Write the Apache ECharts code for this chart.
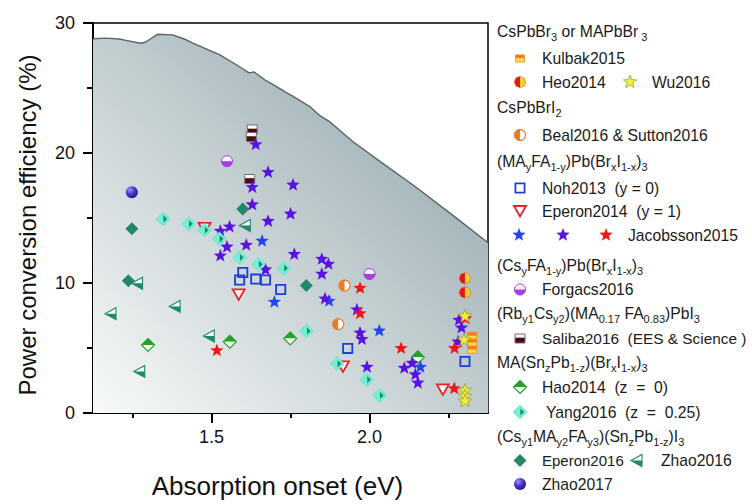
<!DOCTYPE html>
<html>
<head>
<meta charset="utf-8">
<script src="https://cdn.jsdelivr.net/npm/echarts@6/dist/echarts.min.js"></script>
<style>
  html, body { margin: 0; padding: 0; background: #fff; }
  #chart { width: 752px; height: 504px; }
</style>
</head>
<body>
<div id="chart"></div>
<script>
// ---- Data: [absorption onset (eV), power conversion efficiency (%)] ----
const kulbak2015 = [[2.325, 5.94], [2.325, 5.41], [2.325, 4.87]];
const heo2014 = [[2.302, 10.36], [2.302, 9.27]];
const wu2016 = [[2.302, 7.44], [2.299, 5.61], [2.302, 1.73], [2.302, 1.29], [2.302, 0.91]];
const beal2016Sutton2016 = [[1.921, 9.80], [1.901, 6.83]];
const noh2013 = [[1.599, 10.81], [1.589, 10.23], [1.640, 10.30], [1.671, 10.23], [1.719, 9.50], [1.931, 4.97], [2.302, 3.96]];
const eperon2014 = [[1.478, 14.24], [1.586, 9.12], [1.916, 3.58], [2.232, 1.81]];
const jacobssonBlue = [[1.660, 13.23], [1.699, 8.53], [1.872, 8.61], [2.031, 6.32], [2.161, 3.53]];
const jacobssonPurple = [
  [1.640, 20.64], [1.679, 18.51], [1.629, 17.36], [1.758, 17.54], [1.629, 16.02],
  [1.750, 15.31], [1.679, 14.75], [1.557, 14.32], [1.528, 13.99], [1.610, 12.92],
  [1.549, 12.77], [1.762, 12.21], [1.528, 12.09], [1.671, 11.02], [1.849, 11.83],
  [1.870, 11.45], [1.849, 10.69], [1.859, 8.78], [1.960, 7.94], [1.970, 6.17],
  [1.976, 5.66], [1.992, 3.53], [2.110, 3.45], [2.135, 3.83], [2.145, 2.95],
  [2.153, 2.31], [2.283, 7.14], [2.291, 6.55], [2.280, 5.48]
];
const jacobssonRed = [[1.517, 4.80], [1.970, 9.60], [1.970, 7.64], [2.100, 4.97], [2.269, 4.97], [2.268, 1.88], [2.304, 7.26]];
const forgacs2016 = [[1.549, 19.37], [2.000, 10.69]];
const saliba2016 = [[1.629, 21.81], [1.626, 21.23], [1.621, 18.00]];
const hao2014 = [[1.299, 5.23], [1.558, 5.48], [1.749, 5.73], [2.153, 4.29]];
const yang2016 = [
  [1.347, 14.93], [1.428, 14.55], [1.478, 14.07], [1.525, 13.40], [1.589, 11.96],
  [1.649, 11.45], [1.729, 11.14], [1.801, 6.30], [1.898, 3.79], [1.992, 2.57], [2.032, 1.35]
];
const eperon2016 = [[1.599, 15.69], [1.248, 14.17], [1.237, 10.18], [1.800, 9.80]];
const zhao2016 = [[1.607, 14.42], [1.266, 9.98], [1.182, 7.64], [1.385, 8.20], [1.493, 5.92], [1.273, 3.20]];
const zhao2017 = [[1.248, 16.98]];

// Detailed-balance efficiency limit (upper boundary of the shaded region)
const limitEnergy = [1.125, 1.165, 1.208, 1.229, 1.271, 1.282, 1.292, 1.329, 1.377, 1.420, 1.441, 1.525, 1.567,
  1.599, 1.615, 1.621, 1.634, 1.674, 1.694, 1.737, 1.757, 1.811, 1.843, 1.875, 1.948, 2.034, 2.139, 2.266, 2.375];
const limitPce = [28.79, 28.84, 28.77, 28.66, 28.46, 28.46, 28.54, 29.13, 29.09, 28.71, 28.46, 27.57, 26.96,
  26.48, 26.22, 26.16, 26.24, 25.54, 25.28, 24.65, 24.37, 23.57, 22.87, 22.39, 20.87, 19.34, 17.52, 15.16, 13.10];

// Axis ticks
const xMajorTicks = [1.5, 2.0];
const xMinorTicks = [1.25, 1.75, 2.25];
const yRange = [0, 30];
const xRange = [1.125, 2.375];

const FONT = '"Liberation Sans", Arial, Helvetica, sans-serif';

// ---- Marker drawing helpers (shared by plot and legend) ----
function arcPts(cx, cy, r, a0, a1, n) {
  const pts = [];
  for (let i = 0; i <= n; i++) {
    const a = a0 + (a1 - a0) * i / n;
    pts.push([cx + r * Math.cos(a), cy + r * Math.sin(a)]);
  }
  return pts;
}
function poly(points, fill, stroke, lw) {
  return { type: 'polygon', shape: { points }, style: { fill: fill, stroke: stroke || null, lineWidth: lw || 0 } };
}
function starPts(cx, cy, r) {
  const pts = [];
  for (let i = 0; i < 10; i++) {
    const rr = i % 2 === 0 ? r : r * 0.42;
    const a = -Math.PI / 2 + i * Math.PI / 5;
    pts.push([cx + rr * Math.cos(a), cy + rr * Math.sin(a)]);
  }
  return pts;
}
function diamondPts(cx, cy, rx, ry) {
  return [[cx, cy - ry], [cx + rx, cy], [cx, cy + ry], [cx - rx, cy]];
}
const PI = Math.PI;
function marker(kind, x, y) {
  switch (kind) {
    case 'kulbak':
      return [
        { type: 'rect', shape: { x: x - 4.5, y: y - 3.6, width: 9, height: 3.6 }, style: { fill: '#f47b20' } },
        { type: 'rect', shape: { x: x - 4.5, y: y, width: 9, height: 3.6 }, style: { fill: '#f8e23a' } },
        { type: 'rect', shape: { x: x - 4.5, y: y - 3.6, width: 9, height: 7.2 }, style: { fill: null, stroke: '#ef8a2a', lineWidth: 0.8 } }
      ];
    case 'heo':
      return [
        poly(arcPts(x, y, 5.8, PI / 2, 3 * PI / 2, 4), '#e8141c'),
        poly(arcPts(x, y, 5.8, -PI / 2, PI / 2, 4), '#f5d22a'),
        poly(arcPts(x, y, 5.8, 0, 2 * PI, 8), null, '#e0603a', 0.6)
      ];
    case 'wu':
      return [poly(starPts(x, y, 7), '#eef03c', '#a0a030', 0.8)];
    case 'beal':
      return [
        poly(arcPts(x, y, 5.5, 0, 2 * PI, 24), '#ffffff'),
        poly(arcPts(x, y, 5.5, PI / 2, 3 * PI / 2, 12), '#f07a22'),
        poly(arcPts(x, y, 5.5, 0, 2 * PI, 24), null, '#f07a22', 1.2)
      ];
    case 'noh':
      return [{ type: 'rect', shape: { x: x - 4.6, y: y - 4.6, width: 9.2, height: 9.2 }, style: { fill: null, stroke: '#1e3fd2', lineWidth: 1.8 } }];
    case 'eperon2014':
      return [poly([[x - 6, y - 5], [x + 6, y - 5], [x, y + 5.5]], '#ffffff', '#e8202a', 1.8)];
    case 'jacB':
      return [poly(starPts(x, y, 7), '#2246ee')];
    case 'jacP':
      return [poly(starPts(x, y, 7), '#5a12e2')];
    case 'jacR':
      return [poly(starPts(x, y, 7), '#f21616')];
    case 'forgacs':
      return [
        poly(arcPts(x, y, 5.5, PI, 2 * PI, 12), '#f6f0fc'),
        poly(arcPts(x, y, 5.5, 0, PI, 12), '#a43fe2'),
        poly(arcPts(x, y, 5.5, 0, 2 * PI, 24), null, '#9a3ddb', 1)
      ];
    case 'saliba':
      return [
        { type: 'rect', shape: { x: x - 5, y: y - 4.5, width: 10, height: 9 }, style: { fill: '#fafafa' } },
        { type: 'rect', shape: { x: x - 5, y: y - 0.8, width: 10, height: 5.3 }, style: { fill: '#4a0b14' } },
        { type: 'rect', shape: { x: x - 5, y: y - 4.5, width: 10, height: 9 }, style: { fill: null, stroke: '#7a6a6c', lineWidth: 1 } }
      ];
    case 'hao':
      return [
        poly([[x - 6.5, y], [x, y - 6.5], [x + 6.5, y]], '#22a226'),
        poly([[x - 6.5, y], [x + 6.5, y], [x, y + 6.5]], '#ffffff'),
        poly(diamondPts(x, y, 6.5, 6.5), null, '#22a226', 1.2)
      ];
    case 'yang':
      return [
        poly(diamondPts(x, y, 7, 7), '#72f0d6', '#62dcc4', 0.6),
        poly([[x + 0.3, y - 3.6], [x + 4, y], [x + 0.3, y + 3.6]], '#1f8a68')
      ];
    case 'eperon2016':
      return [poly(diamondPts(x, y, 6.5, 6.5), '#24876a')];
    case 'zhao2016':
      return [
        poly([[x - 6, y], [x + 5, y - 6], [x + 5, y]], '#ffffff'),
        poly([[x - 6, y], [x + 5, y], [x + 5, y + 6]], '#1f8a68'),
        poly([[x - 6, y], [x + 5, y - 6], [x + 5, y + 6]], null, '#1f8a68', 1.1)
      ];
    case 'zhao2017':
      return [{
        type: 'circle', shape: { cx: x, cy: y, r: 6 },
        style: {
          fill: new echarts.graphic.RadialGradient(0.35, 0.3, 0.75, [
            { offset: 0, color: '#a496f6' },
            { offset: 0.5, color: '#4a36c8' },
            { offset: 1, color: '#24178e' }
          ])
        }
      }];
  }
  return [];
}

function markerSeries(name, data, kind) {
  return {
    type: 'custom',
    name: name,
    data: data,
    coordinateSystem: 'cartesian2d',
    xAxisIndex: 0,
    yAxisIndex: 0,
    silent: true,
    encode: { x: 0, y: 1 },
    renderItem: function (params, api) {
      const p = api.coord([api.value(0), api.value(1)]);
      return { type: 'group', children: marker(kind, p[0], p[1]) };
    }
  };
}

// ---- Legend (drawn as graphic elements) ----
const LEGEND_SIZE = 15.7;
const mainStyle = { fontSize: LEGEND_SIZE, fontFamily: FONT, lineHeight: 22, fill: '#1a1a1a' };
const subStyle = { fontSize: 11, fontFamily: FONT, lineHeight: 22, fill: '#1a1a1a', verticalAlign: 'bottom' };

function richText(x, y, text) {
  return {
    type: 'text', x: x, y: y, silent: true,
    style: { text: text, rich: { m: mainStyle, s: subStyle }, fontSize: LEGEND_SIZE, fontFamily: FONT, fill: '#1a1a1a', align: 'left', verticalAlign: 'middle' }
  };
}
function plainText(x, y, text, size) {
  return {
    type: 'text', x: x, y: y, silent: true,
    style: { text: text, fontSize: size || LEGEND_SIZE, fontFamily: FONT, fill: '#1a1a1a', align: 'left', verticalAlign: 'middle' }
  };
}
function icon(kind, x, y) {
  return { type: 'group', silent: true, children: marker(kind, x, y) };
}

const HX = 497, IX = 520, TX = 542;
const legendElements = [
  richText(HX, 31.5, '{m|CsPbBr}{s|3}{m| or MAPbBr}{s| 3}'),
  icon('kulbak', IX, 58.5), plainText(TX, 58.5, 'Kulbak2015'),
  icon('heo', IX, 82), plainText(TX, 82, 'Heo2014'),
  icon('wu', 630, 82), plainText(652, 82, 'Wu2016'),
  richText(HX, 107, '{m|CsPbBrI}{s|2}'),
  icon('beal', IX, 135), plainText(TX, 135, 'Beal2016 & Sutton2016'),
  richText(HX, 161.5, '{m|(MA}{s|y}{m|FA}{s|1-y}{m|)Pb(Br}{s|x}{m|I}{s|1-x}{m|)}{s|3}'),
  icon('noh', IX, 188), plainText(TX, 188, 'Noh2013  (y = 0)'),
  icon('eperon2014', IX, 211), plainText(TX, 211, 'Eperon2014  (y = 1)'),
  icon('jacB', 519, 235), icon('jacP', 563, 235), icon('jacR', 606, 235), plainText(628, 235, 'Jacobsson2015'),
  richText(HX, 265, '{m|(Cs}{s|y}{m|FA}{s|1-y}{m|)Pb(Br}{s|x}{m|I}{s|1-x}{m|)}{s|3}'),
  icon('forgacs', IX, 289.5), plainText(TX, 289.5, 'Forgacs2016'),
  richText(HX, 313.5, '{m|(Rb}{s|y1}{m|Cs}{s|y2}{m|)(MA}{s|0.17}{m| FA}{s|0.83}{m|)PbI}{s|3}'),
  icon('saliba', IX, 338.5), plainText(TX, 338.5, 'Saliba2016  (EES & Science )', 15.4),
  richText(HX, 362.5, '{m|MA(Sn}{s|z}{m|Pb}{s|1-z}{m|)(Br}{s|x}{m|I}{s|1-x}{m|)}{s|3}'),
  icon('hao', IX, 387), plainText(TX, 387, 'Hao2014  (z  =  0)'),
  icon('yang', IX, 412), plainText(546, 412, 'Yang2016  (z  =  0.25)'),
  richText(HX, 436, '{m|(Cs}{s|y1}{m|MA}{s|y2}{m|FA}{s|y3}{m|)(Sn}{s|z}{m|Pb}{s|1-z}{m|)I}{s|3}'),
  icon('eperon2016', IX, 460.5), plainText(TX, 460.5, 'Eperon2016', 15),
  icon('zhao2016', 637, 460.5), plainText(661, 460.5, 'Zhao2016'),
  icon('zhao2017', IX, 484), plainText(TX, 484, 'Zhao2017')
];

// ---- Chart ----
const chart = echarts.init(document.getElementById('chart'), null, { renderer: 'svg' });

const axisLineStyle = { color: '#000', width: 2 };
const option = {
  animation: false,
  backgroundColor: '#ffffff',
  grid: {
    left: 93, top: 23, width: 395, height: 394,
    show: true, borderColor: '#000', borderWidth: 1.5, backgroundColor: 'transparent'
  },
  xAxis: [
    {
      type: 'value', min: xRange[0], max: xRange[1], position: 'bottom',
      name: 'Absorption onset (eV)', nameLocation: 'middle', nameGap: 60,
      nameTextStyle: { fontSize: 26, fontFamily: FONT, color: '#111', padding: [0, 26, 0, 0] },
      axisLine: { show: true, onZero: false, lineStyle: axisLineStyle },
      axisTick: { show: true, inside: false, length: 10, customValues: xMajorTicks, lineStyle: axisLineStyle },
      axisLabel: { customValues: xMajorTicks, fontSize: 18, fontFamily: FONT, color: '#111', margin: 15,
        formatter: v => v.toFixed(1) },
      splitLine: { show: false }
    },
    {
      type: 'value', min: xRange[0], max: xRange[1], position: 'bottom',
      axisLine: { show: false, onZero: false },
      axisTick: { show: true, inside: false, length: 5, customValues: xMinorTicks, lineStyle: axisLineStyle },
      axisLabel: { show: false },
      splitLine: { show: false }
    }
  ],
  yAxis: {
    type: 'value', min: yRange[0], max: yRange[1], interval: 10,
    name: 'Power conversion efficiency (%)', nameLocation: 'middle', nameGap: 54,
    nameTextStyle: { fontSize: 24, fontFamily: FONT, color: '#111', padding: [0, 14, 0, 0] },
    axisLine: { show: true, onZero: false, lineStyle: axisLineStyle },
    axisTick: { show: true, inside: false, length: 10, lineStyle: axisLineStyle },
    minorTick: { show: true, splitNumber: 2, length: 6, lineStyle: axisLineStyle },
    axisLabel: { fontSize: 18, fontFamily: FONT, color: '#111', margin: 18 },
    splitLine: { show: false }
  },
  graphic: { elements: legendElements },
  series: [
    {
      type: 'line',
      name: 'limit',
      data: limitEnergy.map((e, i) => [e, limitPce[i]]),
      showSymbol: false,
      silent: true,
      lineStyle: { color: '#56646a', width: 1.4 },
      areaStyle: {
        opacity: 1,
        color: new echarts.graphic.LinearGradient(0, 1, 1, 0, [
          { offset: 0, color: '#f8fafa' },
          { offset: 0.5, color: '#c2cdd0' },
          { offset: 1, color: '#889ea2' }
        ])
      },
      z: 1
    },
    markerSeries('Eperon2014', eperon2014, 'eperon2014'),
    markerSeries('Noh2013', noh2013, 'noh'),
    markerSeries('Saliba2016', saliba2016, 'saliba'),
    markerSeries('Eperon2016', eperon2016, 'eperon2016'),
    markerSeries('Zhao2016', zhao2016, 'zhao2016'),
    markerSeries('Zhao2017', zhao2017, 'zhao2017'),
    markerSeries('Hao2014', hao2014, 'hao'),
    markerSeries('Forgacs2016', forgacs2016, 'forgacs'),
    markerSeries('Beal2016 & Sutton2016', beal2016Sutton2016, 'beal'),
    markerSeries('Jacobsson2015 (Br/I)', jacobssonBlue, 'jacB'),
    markerSeries('Jacobsson2015', jacobssonPurple, 'jacP'),
    markerSeries('Jacobsson2015 (MA)', jacobssonRed, 'jacR'),
    markerSeries('Yang2016', yang2016, 'yang'),
    markerSeries('Heo2014', heo2014, 'heo'),
    markerSeries('Kulbak2015', kulbak2015, 'kulbak'),
    markerSeries('Wu2016', wu2016, 'wu')
  ]
};
chart.setOption(option);
</script>
</body>
</html>
